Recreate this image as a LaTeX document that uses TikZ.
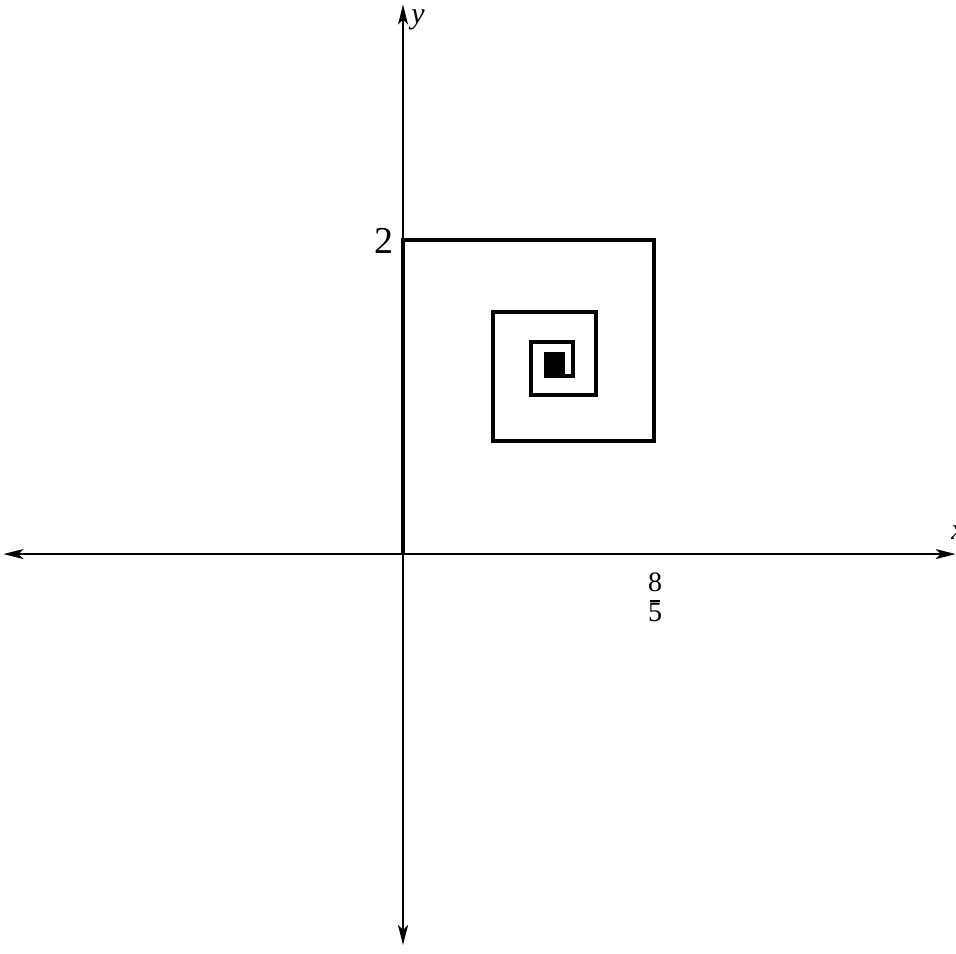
\documentclass[tikz,border=0pt]{standalone}
\usepackage{fontspec}
\setmainfont{Liberation Serif}
\usetikzlibrary{arrows.meta}
\begin{document}
\begin{tikzpicture}[x=157pt,y=157pt,
  axis/.style={line width=1.9pt,{Stealth[length=20pt,width=10pt,inset=5pt]}-{Stealth[length=20pt,width=10pt,inset=5pt]}},
  spiral/.style={line width=4pt,line join=miter},
  lbl/.style={inner sep=0pt}]
\useasboundingbox (-2.567,-2.541) rectangle (3.522,3.529);
\coordinate (O) at (0,0);
\coordinate (xl) at (-2.545,0);
\coordinate (xr) at (3.52,0);
\coordinate (yt) at (0,3.50);
\coordinate (yb) at (0,-2.49);
\draw[axis] (xl) -- (xr);
\draw[axis] (yb) -- (yt);
\draw[spiral] (O) -- ++(0,2) -- ++(1.6,0) -- ++(0,-1.28) -- ++(-1.024,0)
  -- ++(0,0.8192) -- ++(0.65536,0) -- ++(0,-0.524288) -- ++(-0.4194304,0)
  -- ++(0,0.33554432) -- ++(0.268435456,0) -- ++(0,-0.2147483648) -- ++(-0.17179869,0)
  -- ++(0,0.13743895) -- ++(0.10995116,0) -- ++(0,-0.08796093) -- ++(-0.07036874,0)
  -- ++(0,0.05629500) -- ++(0.04503600,0) -- ++(0,-0.03602880) -- ++(-0.02882304,0)
  -- ++(0,0.02305843) -- ++(0.01844674,0) -- ++(0,-0.01475740) -- ++(-0.01180592,0)
  -- ++(0,0.00944473);
\fill (0.8959,1.1230) rectangle (1.0312,1.2858);
\node[lbl,anchor=east] (two) at (-0.06,1.995) {\fontsize{38}{38}\selectfont 2};
\node[lbl] (n8) at (1.605,-0.180) {\fontsize{28}{28}\selectfont 8};
\node[lbl] (n5) at (1.605,-0.372) {\fontsize{28}{28}\selectfont 5};
\coordinate (bl) at (1.573,-0.298);
\coordinate (br) at (1.637,-0.298);
\draw[line width=2.2pt] (bl) -- (br);
\node[lbl] (ylab) at (0.095,3.40) {\fontsize{30}{30}\selectfont\textit{y}};
\node[lbl] (xlab) at (3.535,0.135) {\fontsize{30}{30}\selectfont\textit{x}};
\end{tikzpicture}
\end{document}
